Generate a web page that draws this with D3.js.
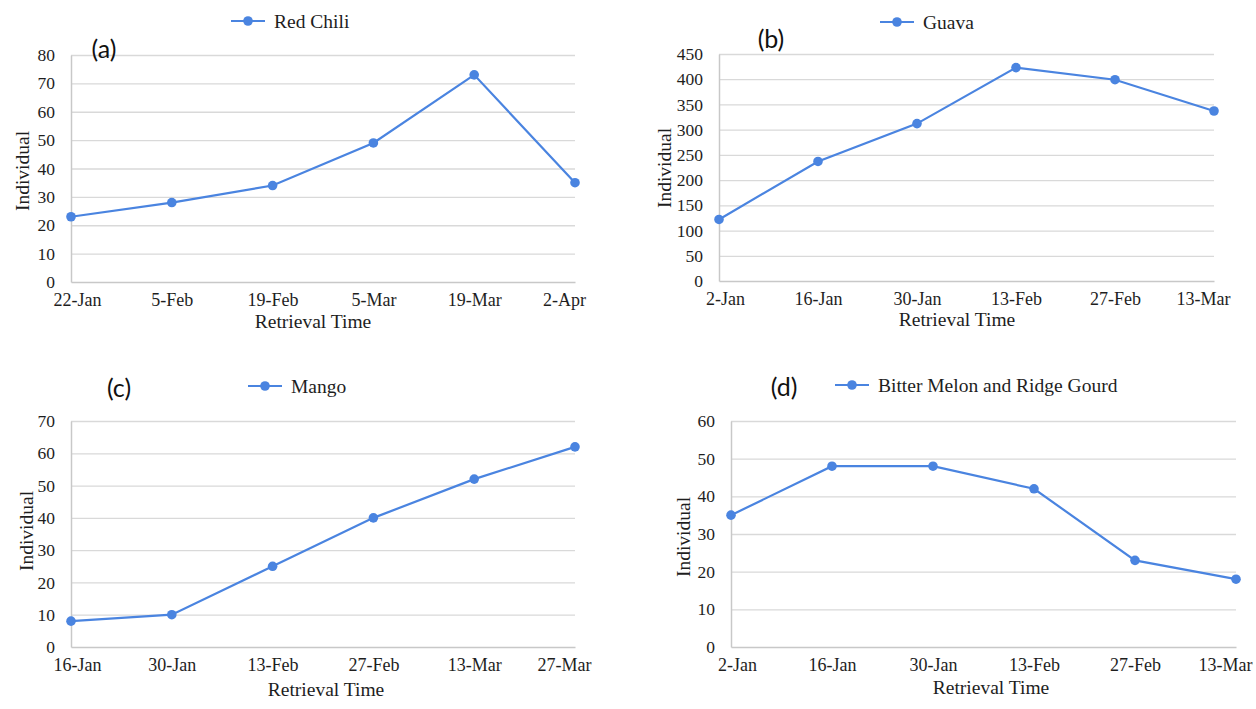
<!DOCTYPE html>
<html>
<head>
<meta charset="utf-8">
<script src="https://cdn.jsdelivr.net/npm/d3@7"></script>
<style>
  html, body { margin: 0; padding: 0; background: #fff; }
  svg { display: block; }
</style>
</head>
<body>
<svg id="chart" width="1256" height="709"></svg>
<script>
// ---- data ----
const datesA = ["22-Jan", "5-Feb", "19-Feb", "5-Mar", "19-Mar", "2-Apr"];
const redChili = [23, 28, 34, 49, 73, 35];
const ticksA = [0, 10, 20, 30, 40, 50, 60, 70, 80];

const datesB = ["2-Jan", "16-Jan", "30-Jan", "13-Feb", "27-Feb", "13-Mar"];
const guava = [122, 237, 312, 423, 399, 337];
const ticksB = [0, 50, 100, 150, 200, 250, 300, 350, 400, 450];

const datesC = ["16-Jan", "30-Jan", "13-Feb", "27-Feb", "13-Mar", "27-Mar"];
const mango = [8, 10, 25, 40, 52, 62];
const ticksC = [0, 10, 20, 30, 40, 50, 60, 70];

const datesD = ["2-Jan", "16-Jan", "30-Jan", "13-Feb", "27-Feb", "13-Mar"];
const bitterMelon = [35, 48, 48, 42, 23, 18];
const ticksD = [0, 10, 20, 30, 40, 50, 60];

const seriesNames = ["Red Chili", "Guava", "Mango", "Bitter Melon and Ridge Gourd"];
const panelLabels = ["(a)", "(b)", "(c)", "(d)"];
const xTitle = "Retrieval Time";
const yTitle = "Individual";

// ---- layout ----
const panels = [
  { dates: datesA, values: redChili, ticks: ticksA, name: seriesNames[0], tag: panelLabels[0],
    L: 71, R: 575, T: 55, B: 282, legX: 231, legY: 21, tagX: 104, tagY: 49, xtX: 313, xtY: 321, ytX: 22, ytY: 171 },
  { dates: datesB, values: guava, ticks: ticksB, name: seriesNames[1], tag: panelLabels[1],
    L: 719, R: 1214, T: 54, B: 281, legX: 880, legY: 22, tagX: 771, tagY: 39, xtX: 957, xtY: 319, ytX: 664, ytY: 168 },
  { dates: datesC, values: mango, ticks: ticksC, name: seriesNames[2], tag: panelLabels[2],
    L: 71, R: 575, T: 421, B: 647, legX: 248, legY: 386, tagX: 119, tagY: 388, xtX: 326, xtY: 689, ytX: 26, ytY: 531 },
  { dates: datesD, values: bitterMelon, ticks: ticksD, name: seriesNames[3], tag: panelLabels[3],
    L: 731, R: 1236, T: 421, B: 647, legX: 835, legY: 385, tagX: 784, tagY: 387, xtX: 991, xtY: 687, ytX: 683, ytY: 537 }
];

const blue = "#4a84e0";
const textCol = "#1e1e1e";
const serif = "'Liberation Serif', 'Times New Roman', serif";

const svg = d3.select("#chart");

panels.forEach(p => {
  const g = svg.append("g");
  const x = d3.scalePoint().domain(p.dates).range([p.L, p.R]);
  const y = d3.scaleLinear().domain([0, d3.max(p.ticks)]).range([p.B, p.T]);

  // gridlines
  g.append("g")
    .attr("transform", `translate(${p.L},0)`)
    .call(d3.axisLeft(y).tickValues(p.ticks.filter(t => t > 0)).tickSize(-(p.R - p.L)).tickFormat(""))
    .call(s => s.select(".domain").remove())
    .call(s => s.selectAll("line").attr("stroke", "#d9d9d9").attr("stroke-width", 1.3));

  // y axis labels
  const yAx = g.append("g")
    .attr("transform", `translate(${p.L},0)`)
    .call(d3.axisLeft(y).tickValues(p.ticks).tickSize(0).tickPadding(16));
  yAx.select(".domain").attr("stroke", "#c8c8c8").attr("stroke-width", 1.5);
  yAx.selectAll("text").attr("font-family", serif).attr("font-size", 17.5).attr("fill", textCol);

  // x axis
  const xAx = g.append("g")
    .attr("transform", `translate(0,${p.B})`)
    .call(d3.axisBottom(x).tickSize(0).tickPadding(11));
  xAx.select(".domain").attr("stroke", "#c8c8c8").attr("stroke-width", 1.5);
  const n = p.dates.length;
  xAx.selectAll("text").attr("font-family", serif).attr("font-size", 18).attr("fill", textCol)
    .attr("dx", (d, i) => i === 0 ? 6 : (i === n - 1 ? -11 : 0));

  // line
  const line = d3.line().x((d, i) => x(p.dates[i])).y(d => y(d));
  g.append("path").datum(p.values)
    .attr("d", line).attr("fill", "none").attr("stroke", blue).attr("stroke-width", 2.2);
  g.selectAll("circle.pt").data(p.values).enter().append("circle")
    .attr("class", "pt")
    .attr("cx", (d, i) => x(p.dates[i])).attr("cy", d => y(d))
    .attr("r", 4.8).attr("fill", blue);

  // axis titles
  g.append("text").attr("x", p.xtX).attr("y", p.xtY).attr("dy", "0.35em")
    .attr("text-anchor", "middle").attr("font-family", serif).attr("font-size", 19.5)
    .attr("fill", textCol).text(xTitle);
  g.append("text").attr("transform", `translate(${p.ytX},${p.ytY}) rotate(-90)`)
    .attr("dy", "0.35em").attr("text-anchor", "middle").attr("font-family", serif)
    .attr("font-size", 19.5).attr("fill", textCol).text(yTitle);

  // legend
  g.append("line").attr("x1", p.legX).attr("x2", p.legX + 34)
    .attr("y1", p.legY).attr("y2", p.legY).attr("stroke", blue).attr("stroke-width", 2.2);
  g.append("circle").attr("cx", p.legX + 17).attr("cy", p.legY).attr("r", 4.8).attr("fill", blue);
  g.append("text").attr("x", p.legX + 43).attr("y", p.legY).attr("dy", "0.35em")
    .attr("font-family", serif).attr("font-size", 19.5).attr("fill", textCol).text(p.name);

  // panel tag
  g.append("text").attr("x", p.tagX).attr("y", p.tagY).attr("dy", "0.35em")
    .attr("text-anchor", "middle").attr("font-family", "Lato, 'Open Sans', sans-serif")
    .attr("font-size", 25).attr("fill", "#111").text(p.tag);
});
</script>
</body>
</html>
